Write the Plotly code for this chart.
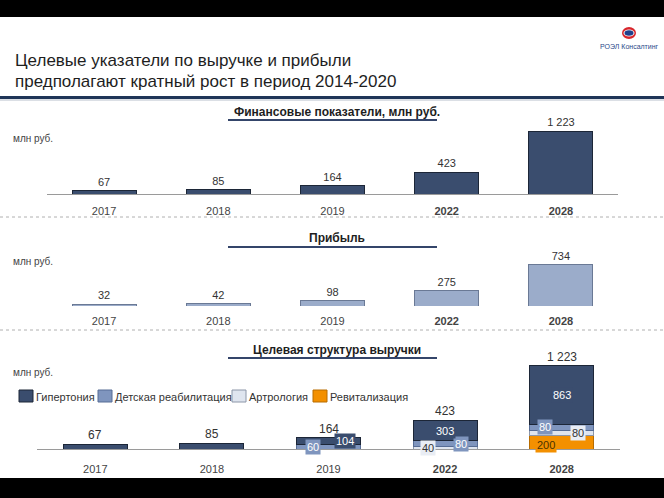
import plotly.graph_objects as go

W, H = 664, 498

# ---------------- data ----------------
years = ["2017", "2018", "2019", "2022", "2028"]
year_ticks = ["2017", "2018", "2019", "<b>2022</b>", "<b>2028</b>"]
revenue = [67, 85, 164, 423, 1223]
profit = [32, 42, 98, 275, 734]

series_names = ["Гипертония", "Детская реабилитация", "Артрология", "Ревитализация"]
hypertension = [67, 85, 104, 303, 863]
child_rehab = [None, None, 60, 80, 80]
arthrology = [None, None, None, 40, 80]
revitalization = [None, None, None, None, 200]

title_lines = ["Целевые указатели по выручке и прибыли",
               "предполагают кратный рост в период 2014-2020"]
panel_titles = ["Финансовые показатели, млн руб.", "Прибыль", "Целевая структура выручки"]
unit_label = "млн руб."
logo_text = "РОЭЛ Консалтинг"

# ---------------- style ----------------
FONT = "Liberation Sans, Arial, sans-serif"
C_DARK = "#3a4d6e"
C_CHILD = "#7f95be"
C_ARTH = "#dfe5ef"
C_ORANGE = "#f39000"
C_PROFIT = "#9bacca"
TXT = "#333333"


def fmt(v):
    return f"{v:,}".replace(",", " ")


def py(p):  # pixel row -> paper y
    return 1 - p / H


def px(p):  # pixel column -> paper x
    return p / W


fig = go.Figure()

# Panel 1: revenue
fig.add_trace(go.Bar(x=years, y=revenue, xaxis="x", yaxis="y", width=0.56,
                     marker=dict(color=C_DARK, line=dict(color="#1c2637", width=1)),
                     text=[fmt(v) for v in revenue], textposition="outside",
                     textfont=dict(size=11, color=TXT, family=FONT), cliponaxis=False,
                     hoverinfo="skip"))

# Panel 2: profit
fig.add_trace(go.Bar(x=years, y=profit, xaxis="x2", yaxis="y2", width=0.56,
                     marker=dict(color=C_PROFIT, line=dict(color="#6a7995", width=1)),
                     text=[fmt(v) for v in profit], textposition="outside",
                     textfont=dict(size=11, color=TXT, family=FONT), cliponaxis=False,
                     hoverinfo="skip"))

# Panel 3: stacked structure (bottom to top)
stack = [
    (series_names[3], revitalization, C_ORANGE, "#b86c00"),
    (series_names[2], arthrology, C_ARTH, "#8c96a8"),
    (series_names[1], child_rehab, C_CHILD, "#566c95"),
    (series_names[0], hypertension, C_DARK, "#1c2637"),
]
for name, vals, col, lc in stack:
    fig.add_trace(go.Bar(x=years, y=vals, name=name, xaxis="x3", yaxis="y3", width=0.55,
                         marker=dict(color=col, line=dict(color=lc, width=1)),
                         cliponaxis=False, hoverinfo="skip"))

annotations = []
shapes = []

# totals above stacked bars (x given as category index)
totals = [sum(v or 0 for v in col) for col in zip(hypertension, child_rehab, arthrology, revitalization)]
for i, t in enumerate(totals):
    annotations.append(dict(x=i, y=t, xref="x3", yref="y3", text=fmt(t), showarrow=False,
                            yanchor="bottom", yshift=0, font=dict(size=12, color=TXT, family=FONT)))

# segment labels with style offsets
seg_style = {
    0: (C_DARK, "white"),
    1: (C_CHILD, "white"),
    2: ("#e9edf4", TXT),
    3: (C_ORANGE, "#4a3000"),
}
offsets = {  # (year, series) -> (xshift, yshift)
    ("2019", 1): (-16, 0), ("2019", 0): (16, 0),
    ("2022", 2): (-17, 0), ("2022", 1): (16, 0), ("2022", 0): (0, 0),
    ("2028", 3): (-16, -3), ("2028", 2): (16, 0), ("2028", 1): (-17, 0), ("2028", 0): (0, 0),
}
series_vals = [hypertension, child_rehab, arthrology, revitalization]
order_bottom_up = [3, 2, 1, 0]
for i, yr in enumerate(years):
    base = 0
    for s in order_bottom_up:
        v = series_vals[s][i]
        if v is None:
            continue
        if (yr, s) in offsets:
            xs, ys = offsets[(yr, s)]
            bg, fc = seg_style[s]
            annotations.append(dict(x=i, y=base + v / 2, xref="x3", yref="y3", text=fmt(v),
                                    showarrow=False, xshift=xs, yshift=ys, bgcolor=bg,
                                    borderpad=1, font=dict(size=11, color=fc, family=FONT)))
        base += v

# main title
for line, yy in zip(title_lines, [61, 81]):
    annotations.append(dict(x=px(13), y=py(yy), xref="paper", yref="paper", text=line,
                            showarrow=False, xanchor="left", yanchor="middle",
                            font=dict(size=17, color="#1e1e1e", family=FONT)))

# panel titles + underlines + unit labels
for t, ty, uy, my in zip(panel_titles, [112, 238, 350], [120, 247, 358], [139, 261, 372]):
    annotations.append(dict(x=px(337), y=py(ty), xref="paper", yref="paper", text=f"<b>{t}</b>",
                            showarrow=False, xanchor="center", yanchor="middle",
                            font=dict(size=12, color="#1e1e1e", family=FONT)))
    shapes.append(dict(type="line", xref="paper", yref="paper", x0=px(228), x1=px(437),
                       y0=py(uy), y1=py(uy), line=dict(color="#34456a", width=2)))
    annotations.append(dict(x=px(11), y=py(my), xref="paper", yref="paper", text=unit_label,
                            showarrow=False, xanchor="left", yanchor="middle",
                            font=dict(size=10, color="#444444", family=FONT)))

# manual legend for panel 3
leg_cols = [(C_DARK, "#1c2637"), (C_CHILD, "#566c95"), (C_ARTH, "#8c96a8"), (C_ORANGE, "#b86c00")]
leg_x = [19, 98, 232, 313]
for name, (col, lc), lx in zip(series_names, leg_cols, leg_x):
    shapes.append(dict(type="rect", xref="paper", yref="paper", x0=px(lx), x1=px(lx + 14),
                       y0=py(402), y1=py(390), fillcolor=col, line=dict(color=lc, width=1)))
    annotations.append(dict(x=px(lx + 15), y=py(396.5), xref="paper", yref="paper", text=name,
                            showarrow=False, xanchor="left", yanchor="middle",
                            font=dict(size=11, color=TXT, family=FONT)))

# black bands
shapes.append(dict(type="rect", xref="paper", yref="paper", x0=0, x1=1, y0=py(17), y1=1,
                   fillcolor="black", line=dict(width=0), layer="above"))
shapes.append(dict(type="rect", xref="paper", yref="paper", x0=0, x1=1, y0=0, y1=py(478),
                   fillcolor="black", line=dict(width=0), layer="above"))
# title rule
shapes.append(dict(type="line", xref="paper", yref="paper", x0=0, x1=1, y0=py(97.5), y1=py(97.5),
                   line=dict(color="#1f3558", width=3)))
shapes.append(dict(type="line", xref="paper", yref="paper", x0=0, x1=1, y0=py(100), y1=py(100),
                   line=dict(color="#b8c0cc", width=1)))
# dotted separators
for sy in [217, 330]:
    shapes.append(dict(type="line", xref="paper", yref="paper", x0=0, x1=1, y0=py(sy), y1=py(sy),
                       line=dict(color="#b0b0b0", width=1, dash="dot")))
# logo
shapes.append(dict(type="circle", xref="paper", yref="paper", x0=px(622), x1=px(636),
                   y0=py(39), y1=py(27), fillcolor="#d8262c", line=dict(width=0)))
shapes.append(dict(type="circle", xref="paper", yref="paper", x0=px(623.5), x1=px(634.5),
                   y0=py(36.5), y1=py(29.5), fillcolor="white", line=dict(width=0)))
shapes.append(dict(type="circle", xref="paper", yref="paper", x0=px(624.5), x1=px(633.5),
                   y0=py(35.7), y1=py(30.3), fillcolor="#1f3f8c", line=dict(width=0)))
annotations.append(dict(x=px(629), y=py(47), xref="paper", yref="paper", text=logo_text,
                        showarrow=False, xanchor="center", yanchor="middle",
                        font=dict(size=7, color="#2a4a8a", family=FONT)))

xcommon = dict(type="category", showgrid=False, zeroline=False, ticks="",
               tickfont=dict(size=11, color="#444444", family=FONT),
               tickvals=years, ticktext=year_ticks, range=[-0.5, 4.5],
               autorange=False, fixedrange=True)
ycommon = dict(showgrid=False, zeroline=False, showticklabels=False, fixedrange=True,
               autorange=False)

fig.update_layout(
    width=W, height=H, margin=dict(l=0, r=0, t=0, b=0),
    paper_bgcolor="white", plot_bgcolor="white",
    barmode="stack", showlegend=False, hovermode=False,
    font=dict(family=FONT),
    xaxis=dict(**xcommon, domain=[px(47), px(618)], anchor="y", showline=True,
               linecolor="#9a9a9a", linewidth=1, ticklabelstandoff=7),
    yaxis=dict(**ycommon, domain=[py(194), py(124)], range=[0, 1367], anchor="x"),
    xaxis2=dict(**xcommon, domain=[px(47), px(618)], anchor="y2", showline=False,
                ticklabelstandoff=7),
    yaxis2=dict(**ycommon, domain=[py(306), py(246)], range=[0, 1073], anchor="x2"),
    xaxis3=dict(**xcommon, domain=[px(37), px(620)], anchor="y3", showline=True,
                linecolor="#9a9a9a", linewidth=1, ticklabelstandoff=10),
    yaxis3=dict(**ycommon, domain=[py(449), py(359)], range=[0, 1326], anchor="x3"),
    annotations=annotations, shapes=shapes,
)

fig.write_html("out.html", config={"displayModeBar": False},
               post_script="document.body.style.margin='0';")
